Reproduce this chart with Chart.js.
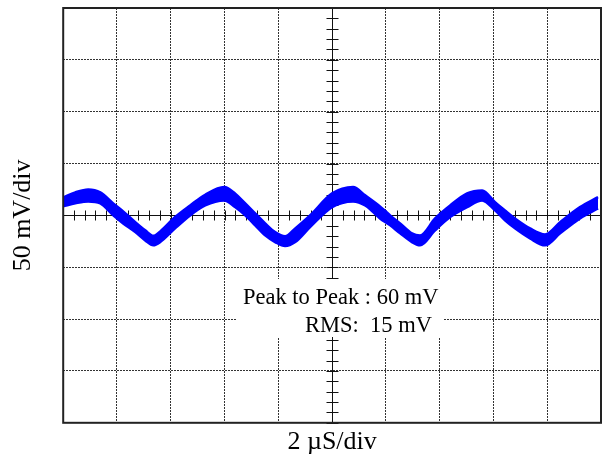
<!DOCTYPE html>
<html>
<head>
<meta charset="utf-8">
<script src="https://cdn.jsdelivr.net/npm/chart.js@4.4.0/dist/chart.umd.min.js"></script>
<style>
  html, body { margin: 0; padding: 0; background: #fff; }
  #wrap { width: 603px; height: 459px; position: relative; }
</style>
</head>
<body>
<div id="wrap"><canvas id="scopeChart"></canvas></div>
<script>
// time in microseconds (10 divisions of 2 us)
const timeUs = [0, 0.45, 0.93, 1.38, 1.86, 2.23, 2.68, 3.05, 3.35, 3.61, 4.16, 4.72,
  5.28, 5.99, 6.39, 6.77, 7.14, 7.51, 7.88, 8.25, 8.63, 9.18, 10.0, 10.78, 11.23,
  11.78, 12.16, 12.53, 12.97, 13.27, 13.83, 14.39, 15.02, 15.58, 16.06, 16.43,
  16.8, 17.36, 17.92, 18.48, 19.22, 19.89];
// upper / lower edge of the trace, in mV
const upperMv = [17.3, 22.2, 25.0, 22.2, 11.6, 3.9, -6.5, -14.4, -19.7, -15.4, -1.6, 9.6,
  19.9, 27.3, 21.2, 11.6, 1.9, -7.7, -16.1, -20.2, -12.5, 0, 21.2, 27.4, 19.3,
  8.7, 0, -7.7, -17.3, -19.3, -2.9, 9.6, 21.2, 24.1, 12.8, 4.8,
  -2.9, -12.5, -18.3, -6.5, 8.0, 17.6];
const lowerMv = [8.7, 11.6, 13.5, 11.6, 0, -7.7, -16.1, -24.1, -28.9, -25.7, -12.5, 0,
  9.6, 14.4, 8.0, 0, -9.6, -19.3, -25.7, -29.6, -25.7, -11.3, 8.0, 13.5, 9.6,
  -2.9, -9.6, -17.3, -25.7, -28.9, -14.4, -1.6, 8.0, 14.4, 4.8, -4.8,
  -12.5, -22.2, -28.9, -17.3, -2.9, 6.7];

const xTitle = '2 µS/div';
const yTitle = '50 mV/div';
const noteLines = ['Peak to Peak : 60 mV', 'RMS:  15 mV'];

const serif = 'Liberation Serif';
const trace = '#0000ff';

function toPoints(ys) {
  return timeUs.map((t, i) => ({ x: t, y: ys[i] }));
}

// solid centre axes with small division ticks, drawn under the trace
const scopeAxes = {
  id: 'scopeAxes',
  beforeDatasetsDraw(chart) {
    const { ctx, chartArea: a, scales: { x, y } } = chart;
    const cx = Math.round(x.getPixelForValue(10)) + 0.5;
    const cy = Math.round(y.getPixelForValue(0)) + 0.5;
    ctx.save();
    ctx.strokeStyle = '#111';
    ctx.lineWidth = 1;
    ctx.beginPath();
    ctx.moveTo(a.left, cy); ctx.lineTo(a.right, cy);
    ctx.moveTo(cx, a.top); ctx.lineTo(cx, a.bottom);
    for (let i = 0; i <= 50; i++) {
      const px = Math.round(x.getPixelForValue(i * 0.4)) + 0.5;
      ctx.moveTo(px, cy - 5); ctx.lineTo(px, cy + 5);
    }
    for (let i = -20; i <= 20; i++) {
      const py = Math.round(y.getPixelForValue(i * 10)) + 0.5;
      ctx.moveTo(cx - 6, py); ctx.lineTo(cx + 6, py);
    }
    ctx.stroke();
    ctx.restore();
  }
};

// measurement note on a white box, plus the outer frame
const scopeNote = {
  id: 'scopeNote',
  afterDatasetsDraw(chart) {
    const { ctx } = chart;
    ctx.save();
    ctx.fillStyle = '#fff';
    ctx.fillRect(236, 279, 208, 58);
    ctx.fillStyle = '#000';
    ctx.font = '22.5px "' + serif + '"';
    ctx.textBaseline = 'alphabetic';
    ctx.textAlign = 'left';
    ctx.fillText(noteLines[0], 243, 304);
    ctx.fillText(noteLines[1], 305, 332);
    ctx.restore();
  },
  afterDraw(chart) {
    const { ctx, chartArea: a } = chart;
    ctx.save();
    ctx.strokeStyle = '#222';
    ctx.lineWidth = 2;
    ctx.strokeRect(a.left, a.top, a.right - a.left, a.bottom - a.top);
    ctx.restore();
  }
};

const gridStyle = { color: '#333', lineWidth: 1, drawTicks: false };

new Chart(document.getElementById('scopeChart').getContext('2d'), {
  type: 'line',
  data: {
    datasets: [{
      data: toPoints(upperMv),
      borderColor: trace,
      backgroundColor: trace,
      borderWidth: 2.5,
      pointRadius: 0,
      fill: '+1',
      cubicInterpolationMode: 'monotone'
    }, {
      data: toPoints(lowerMv),
      borderColor: trace,
      backgroundColor: trace,
      borderWidth: 2.5,
      pointRadius: 0,
      fill: false,
      cubicInterpolationMode: 'monotone'
    }]
  },
  options: {
    responsive: true,
    maintainAspectRatio: false,
    animation: false,
    layout: { padding: { left: 0, right: 2, top: 8, bottom: 0 } },
    plugins: { legend: { display: false }, tooltip: { enabled: false } },
    scales: {
      x: {
        type: 'linear',
        min: 0,
        max: 20,
        ticks: { display: false, stepSize: 2 },
        grid: gridStyle,
        border: { display: false, dash: [2, 1] },
        title: {
          display: true,
          text: xTitle,
          color: '#000',
          font: { family: serif, size: 26 },
          padding: { top: 4, bottom: 1 }
        }
      },
      y: {
        min: -200,
        max: 200,
        ticks: { display: false, stepSize: 50 },
        grid: gridStyle,
        border: { display: false, dash: [2, 1] },
        title: {
          display: true,
          text: yTitle,
          color: '#000',
          font: { family: serif, size: 26 },
          padding: { top: 8, bottom: 24 }
        }
      }
    }
  },
  plugins: [scopeAxes, scopeNote]
});
</script>
</body>
</html>
